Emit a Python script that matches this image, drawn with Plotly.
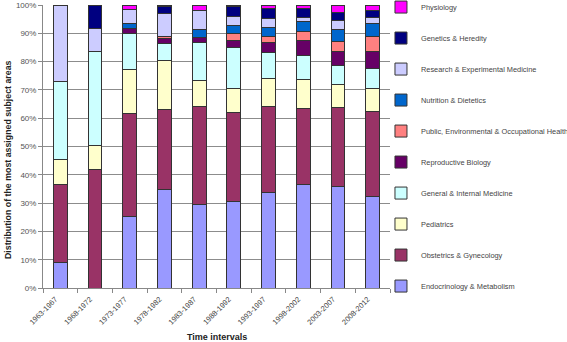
import plotly.graph_objects as go

categories = ["1963-1967", "1968-1972", "1973-1977", "1978-1982", "1983-1987",
              "1988-1992", "1993-1997", "1998-2002", "2003-2007", "2008-2012"]

endocrinology = [9.0, 0.0, 25.1, 34.9, 29.6, 30.4, 33.9, 36.7, 35.9, 32.4]
obstetrics    = [27.7, 42.0, 36.7, 28.3, 34.5, 31.7, 30.2, 26.8, 28.0, 30.0]
pediatrics    = [8.8, 8.2, 15.3, 17.1, 9.2, 8.5, 9.9, 10.3, 8.0, 8.2]
general_int   = [27.4, 33.3, 12.9, 6.2, 13.4, 14.3, 9.1, 8.5, 6.9, 7.0]
reproductive  = [0.0, 0.0, 1.7, 1.7, 1.9, 2.7, 3.8, 5.3, 4.9, 5.9]
public_health = [0.0, 0.0, 0.0, 0.8, 0.0, 2.4, 2.1, 3.0, 3.5, 5.5]
nutrition     = [0.0, 0.0, 1.6, 0.0, 2.6, 2.6, 3.1, 3.5, 4.2, 4.3]
research      = [27.1, 8.3, 5.2, 8.1, 7.0, 3.5, 3.0, 1.6, 3.1, 2.4]
genetics      = [0.0, 8.2, 0.0, 2.3, 0.0, 3.5, 3.7, 3.1, 2.8, 2.5]
physiology    = [0.0, 0.0, 1.5, 0.6, 1.8, 0.4, 1.2, 1.2, 2.7, 1.8]

series_names = ["Endocrinology & Metabolism", "Obstetrics & Gynecology", "Pediatrics",
                "General & Internal Medicine", "Reproductive Biology",
                "Public, Environmental & Occupational Health", "Nutrition & Dietetics",
                "Research & Experimental Medicine", "Genetics & Heredity", "Physiology"]
series_values = [endocrinology, obstetrics, pediatrics, general_int, reproductive,
                 public_health, nutrition, research, genetics, physiology]
series_colors = ["#9999FF", "#993366", "#FFFFCC", "#CCFFFF", "#660066",
                 "#FF8080", "#0066CC", "#CCCCFF", "#000080", "#FF00FF"]

y_ticks = [0, 10, 20, 30, 40, 50, 60, 70, 80, 90, 100]
y_ticktext = [f"{v}%" for v in y_ticks]

FONT = "Arial, Liberation Sans, sans-serif"

fig = go.Figure()
n = len(series_names)
for i, (name, vals, col) in enumerate(zip(series_names, series_values, series_colors)):
    fig.add_trace(go.Bar(
        x=categories, y=vals, name=name, legendgroup=f"g{i}",
        legendrank=n - i,
        marker=dict(color=col, line=dict(color="#333333", width=1)),
    ))

fig.update_layout(
    barmode="stack",
    bargap=0.6,
    width=567, height=342,
    margin=dict(l=43, r=177, t=5, b=54, autoexpand=False),
    paper_bgcolor="white",
    plot_bgcolor="white",
    font=dict(family=FONT, size=8, color="#333333"),
    legend=dict(
        x=0.974, xanchor="left", y=1.044, yanchor="top",
        traceorder="grouped",
        tracegroupgap=12,
        maxheight=340,
        font=dict(family=FONT, size=7.4, color="#444444"),
        bgcolor="rgba(0,0,0,0)",
    ),
    xaxis=dict(
        type="category",
        tickangle=-45,
        tickfont=dict(family=FONT, size=7.5, color="#444444"),
        showline=True, linecolor="#888888", linewidth=1,
        ticks="outside", ticklen=4, tickcolor="#888888",
        tickson="boundaries",
        ticklabelstandoff=3,
        ticklabelshift=-5,
        showgrid=False,
        automargin=False,
    ),
    yaxis=dict(
        range=[0, 100],
        tickvals=y_ticks, ticktext=y_ticktext,
        tickfont=dict(family=FONT, size=8, color="#555555"),
        showline=True, linecolor="#888888", linewidth=1,
        ticks="outside", ticklen=4, tickcolor="#888888",
        showgrid=True, gridcolor="#8c8c8c", gridwidth=1,
        zeroline=False,
        automargin=False,
    ),
    annotations=[
        dict(
            text="<b>Time intervals</b>", xref="paper", yref="paper",
            x=0.5, y=-49 / 283, xanchor="center", yanchor="middle",
            showarrow=False, font=dict(family=FONT, size=9, color="#222222"),
        ),
        dict(
            text="<b>Distribution of the most assigned subject areas</b>",
            xref="paper", yref="paper", textangle=-90,
            x=-35 / 347, y=(288 - 160) / 283, xanchor="center", yanchor="middle",
            showarrow=False, font=dict(family=FONT, size=8.8, color="#222222"),
        ),
    ],
)

fig.write_html("out.html", config={"displayModeBar": False},
               post_script="document.body.style.margin='0px';")
